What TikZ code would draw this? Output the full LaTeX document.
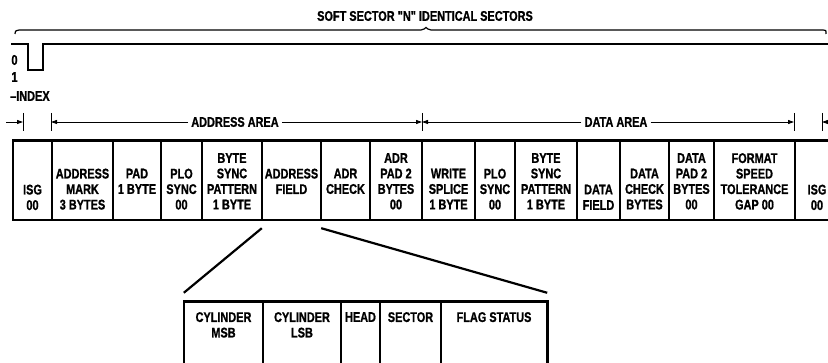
\documentclass[tikz,border=0pt]{standalone}
\usepackage{fontspec}
\setmainfont{Liberation Sans}[FakeStretch=0.78,Ligatures=TeXOff,BoldFeatures={FakeBold=1}]
\usetikzlibrary{arrows.meta}
\tikzset{
  every node/.style={font=\bfseries\fontsize{14}{15.5}\selectfont,inner sep=0pt},
  celltext/.style={align=center,anchor=north},
  cellbox/.style={draw=none,minimum height=79pt},
  subbox/.style={draw=none,minimum height=70pt},
  signal/.style={line width=2.8pt,line join=miter},
  brace/.style={line width=1.2pt},
  dim/.style={line width=.9pt},
  dimarrow/.style={dim,-{Triangle[length=6pt,width=4pt]}},
  frame/.style={line width=2.6pt,line join=miter},
  divider/.style={line width=1.8pt},
  link/.style={line width=2.2pt},
}

\begin{document}
\begin{tikzpicture}[x=1pt,y=-1pt]
\path[use as bounding box] (0,0) rectangle (828,363);
\fill[white] (0,0) rectangle (828,363);
\node (title) at (425,16) {SOFT SECTOR "N" IDENTICAL SECTORS};
\draw[brace] (15,34) .. controls (15,31) .. (19,30) -- (421,30)
  .. controls (424,30) and (425,28) .. (426,27.5)
  .. controls (427,28) and (428,30) .. (431,30) -- (823,30)
  .. controls (826,30) .. (826,34);
% index pulse
\draw[signal] (11,44) -- (28,44) -- (28,70) -- (43,70) -- (43,44) -- (830,44);
\node (zero) at (14.5,60) {0};
\node (one) at (14.5,77) {1};
\node[anchor=west] (index) at (10,96) {–INDEX};
% area dimensions
\foreach \x [count=\i] in {23,51,422,794,822} {
  \coordinate (t\i) at (\x,122);
  \draw[dim] (\x,113) -- (\x,131);
}
\coordinate (dimstart) at (6,122);
\coordinate (dimend) at (830,122);
\node[inner xsep=3pt] (addrarea) at (235,122) {ADDRESS AREA};
\node[inner xsep=3pt] (dataarea) at (616,122) {DATA AREA};
\draw[dimarrow] (dimstart) -- (t1);
\draw[dimarrow] (addrarea.west) -- (t2);
\draw[dimarrow] (addrarea.east) -- (t3);
\draw[dimarrow] (dataarea.west) -- (t3);
\draw[dimarrow] (dataarea.east) -- (t4);
\draw[dimarrow] (dimend) -- (t5);
% sector fields
\foreach \xa/\xb/\ty/\txt [count=\i] in {
  13/52/184.5/{ISG\\00},
  52/113/168.5/{ADDRESS\\MARK\\3 BYTES},
  113/161/168.5/{PAD\\1 BYTE},
  161/202/168.5/{PLO\\SYNC\\00},
  202/262/153/{BYTE\\SYNC\\PATTERN\\1 BYTE},
  262/321/168.5/{ADDRESS\\FIELD},
  321/370/168.5/{ADR\\CHECK},
  370/422/153/{ADR\\PAD 2\\BYTES\\00},
  422/475/168.5/{WRITE\\SPLICE\\1 BYTE},
  475/515/168.5/{PLO\\SYNC\\00},
  515/577/153/{BYTE\\SYNC\\PATTERN\\1 BYTE},
  577/620/184.5/{DATA\\FIELD},
  620/669/168.5/{DATA\\CHECK\\BYTES},
  669/714/153/{DATA\\PAD 2\\BYTES\\00},
  714/795/153/{FORMAT\\SPEED\\TOLERANCE\\GAP 00},
  795/839/184.5/{ISG\\00}} {
  \node[cellbox,minimum width={(\xb-\xa)*1pt}] (cell\i) at ({(\xa+\xb)/2},180.5) {};
  \node[celltext] (txt\i) at ({(\xa+\xb)/2},\ty) {\txt};
}
\draw[frame] (cell16.north east) -- (cell1.north west) -- (cell1.south west) -- (cell16.south east);
\foreach \i in {1,...,15}
  \draw[divider] (cell\i.north east) -- (cell\i.south east);
% address field detail
\foreach \xa/\xb/\txt [count=\i] in {
  184/263/{CYLINDER\\MSB},
  263/341/{CYLINDER\\LSB},
  341/380/{HEAD},
  380/441/{SECTOR},
  441/547/{FLAG STATUS}} {
  \node[subbox,minimum width={(\xb-\xa)*1pt}] (sub\i) at ({(\xa+\xb)/2},337) {};
  \node[celltext] (subtxt\i) at ({(\xa+\xb)/2},312) {\txt};
}
\draw[frame] (sub5.south east) -- (sub5.north east) -- (sub1.north west) -- (sub1.south west);
\foreach \i in {1,...,4}
  \draw[divider] (sub\i.north east) -- (sub\i.south east);
\draw[link] ([yshift=-8pt]cell6.south west) -- ([yshift=9pt]sub1.north west);
\draw[link] ([yshift=-8pt]cell6.south east) -- ([yshift=9pt]sub5.north east);
\end{tikzpicture}
\end{document}
